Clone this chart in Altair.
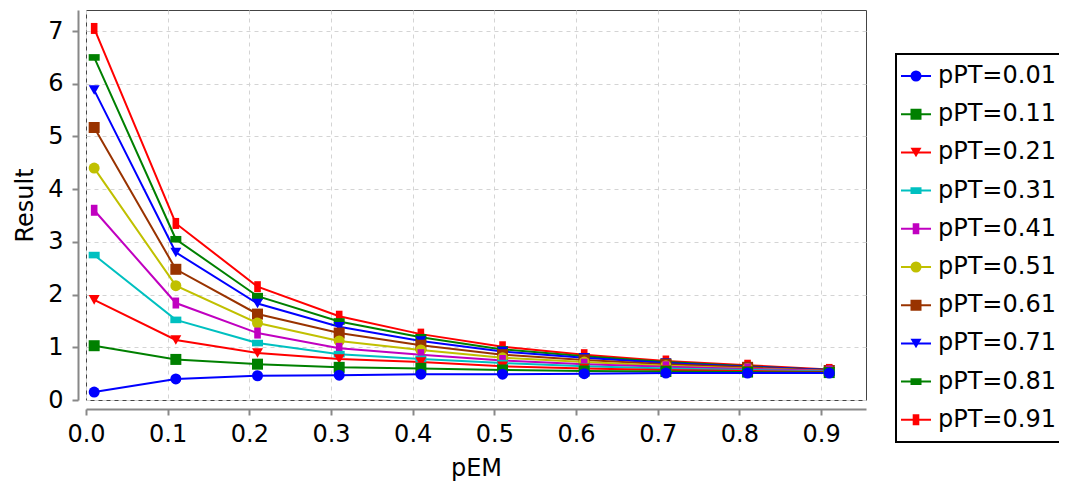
import altair as alt
import pandas as pd

# x values (pEM)
pem = [0.01, 0.11, 0.21, 0.31, 0.41, 0.51, 0.61, 0.71, 0.81, 0.91]

series_names = ["pPT=0.01", "pPT=0.11", "pPT=0.21", "pPT=0.31", "pPT=0.41",
                "pPT=0.51", "pPT=0.61", "pPT=0.71", "pPT=0.81", "pPT=0.91"]

r_001 = [0.15, 0.40, 0.46, 0.47, 0.49, 0.49, 0.50, 0.51, 0.51, 0.51]
r_011 = [1.03, 0.77, 0.68, 0.62, 0.60, 0.57, 0.55, 0.54, 0.53, 0.52]
r_021 = [1.90, 1.14, 0.89, 0.78, 0.72, 0.64, 0.60, 0.57, 0.55, 0.53]
r_031 = [2.75, 1.52, 1.08, 0.87, 0.78, 0.70, 0.64, 0.60, 0.57, 0.54]
r_041 = [3.60, 1.84, 1.27, 0.98, 0.86, 0.75, 0.68, 0.63, 0.59, 0.55]
r_051 = [4.40, 2.17, 1.46, 1.12, 0.95, 0.80, 0.72, 0.65, 0.60, 0.55]
r_061 = [5.17, 2.48, 1.63, 1.27, 1.04, 0.86, 0.76, 0.68, 0.62, 0.56]
r_071 = [5.88, 2.80, 1.83, 1.39, 1.12, 0.92, 0.80, 0.70, 0.63, 0.57]
r_081 = [6.50, 3.05, 1.97, 1.49, 1.19, 0.96, 0.83, 0.72, 0.64, 0.57]
r_091 = [7.05, 3.35, 2.15, 1.59, 1.25, 1.01, 0.86, 0.74, 0.66, 0.58]

results = [r_001, r_011, r_021, r_031, r_041, r_051, r_061, r_071, r_081, r_091]

colors = ["#0000FF", "#008000", "#FF0000", "#00C0C0", "#C000C0",
          "#C0C000", "#993300", "#0000FF", "#008000", "#FF0000"]

HRECT = "M-1,-0.6H1V0.6H-1Z"
VRECT = "M-0.6,-1H0.6V1H-0.6Z"
shapes = ["circle", "square", "triangle-down", HRECT, VRECT,
          "circle", "square", "triangle-down", HRECT, VRECT]

x_ticks = [0.0, 0.1, 0.2, 0.3, 0.4, 0.5, 0.6, 0.7, 0.8, 0.9]
y_ticks = [0, 1, 2, 3, 4, 5, 6, 7]

rows = []
# reverse order so the first series is drawn on top
for idx in range(len(series_names) - 1, -1, -1):
    for xv, yv in zip(pem, results[idx]):
        rows.append({"series": series_names[idx], "pEM": xv, "Result": yv})
df = pd.DataFrame(rows)

FONT = "DejaVu Sans"

x_enc = alt.X("pEM:Q",
              scale=alt.Scale(domain=[0, 0.955], nice=False, zero=False),
              axis=alt.Axis(values=x_ticks, format=".1f", title="pEM",
                            offset=9, labelPadding=7, titlePadding=29,
                            titleBaseline="alphabetic", labelFlush=False))
y_enc = alt.Y("Result:Q",
              scale=alt.Scale(domain=[0, 7.4], nice=False),
              axis=alt.Axis(values=y_ticks, format="d", title="Result",
                            offset=8, labelPadding=9, titlePadding=10,
                            labelFlush=False))

LX, LY = 810, 44

stroke_legend = alt.Legend(title=None, orient="none", legendX=LX, legendY=LY,
                           symbolType="stroke", symbolSize=900, symbolStrokeWidth=2,
                           labelFontSize=24, labelFont=FONT, labelColor="black",
                           labelOffset=6, clipHeight=36, rowPadding=2.2, padding=4,
                           strokeColor="black")
point_legend = alt.Legend(title=None, orient="none", legendX=LX, legendY=LY,
                          symbolSize=121, symbolStrokeWidth=0, symbolOffset=4,
                          labelFontSize=24, labelFont=FONT, labelExpr="''",
                          labelOffset=6, clipHeight=36, rowPadding=2.2, padding=4)

lines = alt.Chart(df).mark_line(strokeWidth=2).encode(
    x=x_enc, y=y_enc,
    color=alt.Color("series:N", scale=alt.Scale(domain=series_names, range=colors),
                    legend=stroke_legend),
)

points = alt.Chart(df).mark_point(filled=True, size=121, opacity=1).encode(
    x=x_enc, y=y_enc,
    color=alt.Color("series:N", scale=alt.Scale(domain=series_names, range=colors),
                    legend=point_legend),
    shape=alt.Shape("series:N", scale=alt.Scale(domain=series_names, range=shapes),
                    legend=point_legend),
)

chart = alt.layer(lines, points).resolve_scale(
    color="independent", shape="independent"
).properties(
    width=780, height=390,
    autosize=alt.AutoSizeParams(type="none"),
    padding={"left": 78, "top": 2, "right": 193, "bottom": 81},
).configure(font=FONT).configure_view(
    stroke="#444444", strokeWidth=1
).configure_axis(
    grid=True, gridColor="#d4d4d4", gridDash=[4, 4], gridWidth=1,
    domainColor="#888888", domainWidth=2, tickColor="#888888", tickWidth=2, tickSize=6,
    labelFont=FONT, labelFontSize=24, labelColor="black",
    titleFont=FONT, titleFontSize=24, titleFontWeight="normal", titleColor="black",
).configure_legend(strokeWidth=2)

chart.save("out.html", embed_options={"renderer": "svg", "actions": False})
